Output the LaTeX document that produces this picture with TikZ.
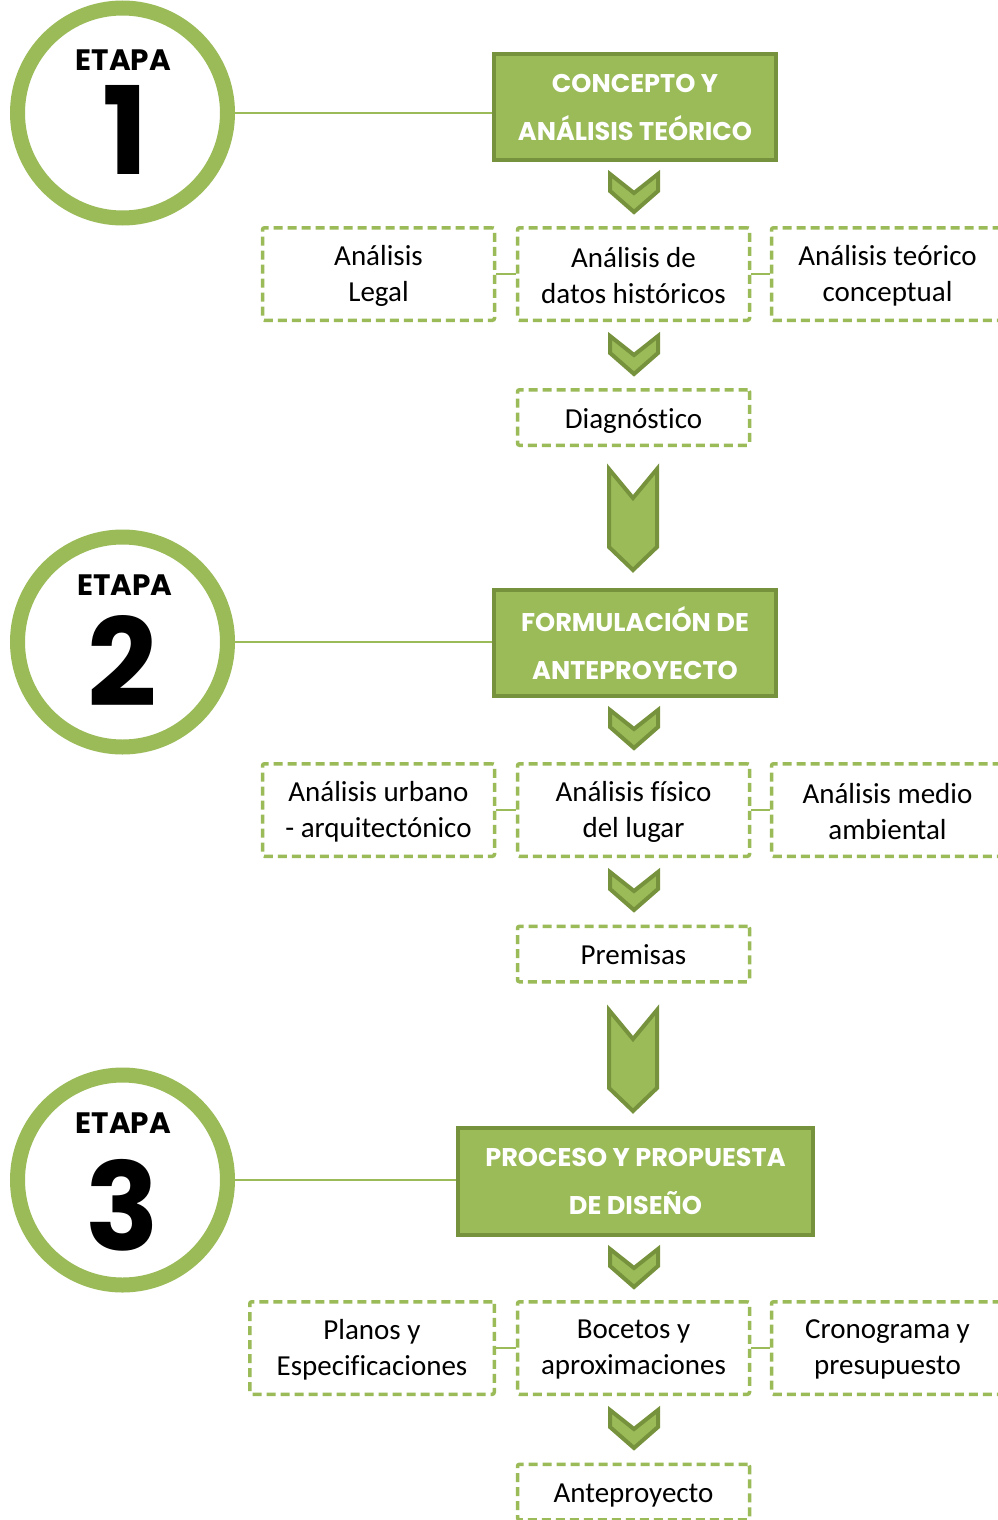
\documentclass[tikz,border=0pt]{standalone}
\usepackage{fontspec}
\setmainfont{Carlito}[Ligatures=NoCommon]
\newfontfamily\gothic{Poppins}
\definecolor{lg}{HTML}{9BBB59}
\definecolor{dg}{HTML}{76923C}
\newcommand\chevS[1]{\draw[chev] (#1) ++(-24,0) -- ++(24,19) -- ++(24,-19) -- ++(0,17) -- ++(-24,21) -- ++(-24,-21) -- cycle;}
\newcommand\chevB[1]{\draw[chev] (#1) ++(-24,0) -- ++(24,29) -- ++(24,-29) -- ++(0,78) -- ++(-24,23) -- ++(-24,-23) -- cycle;}
\newcommand\dnode[4][]{\node[dbox,#1,label={[tlab]center:{#4}}] (#2) at (#3) {};}
\begin{document}
\begin{tikzpicture}[x=1pt,y=-1pt,
 hdr/.style={rectangle, fill=lg, draw=dg, line width=4pt, text=white, font=\gothic\bfseries\fontsize{25.6}{48}\selectfont, align=center, inner sep=0pt, minimum width=282pt, minimum height=106pt},
 dbase/.style={rectangle, draw=lg, line width=3.5pt, dash pattern=on 9pt off 5pt, rounded corners=2pt, minimum width=232pt, align=center, font=\fontsize{29}{36}\selectfont, inner sep=0pt},
 dbox/.style={dbase, minimum height=92.5pt},
 tlab/.style={align=center, font=\fontsize{29}{36}\selectfont, inner sep=0pt, yshift=-1.5pt},
 sbox/.style={dbase, minimum height=55.5pt,
   execute at begin node={\rule{0pt}{27pt}}, execute at end node={\rule[-6pt]{0pt}{0pt}}},
 ring/.style={circle, draw=lg, line width=15pt, minimum size=210pt, inner sep=0pt, fill=white},
 etapa/.style={font=\gothic\bfseries\fontsize{29.5}{30}\selectfont, inner sep=0pt},
 num/.style={font=\gothic\bfseries\fontsize{122}{122}\selectfont, inner sep=0pt},
 link/.style={draw=lg, line width=2pt},
 tie/.style={draw=lg, line width=2.5pt},
 chev/.style={fill=lg, draw=dg, line width=4pt, line join=miter}]
\useasboundingbox (0,0) rectangle (997,1520);
\fill[white] (0,0) rectangle (997,1520);
% ETAPA 1
\node[ring] (c1) at (122.5,113) {};
\node[etapa] (e1) at (123.5,60) {ETAPA};
\node[num] (n1) at (125,130) {1};
\node[hdr] (b1) at (635,107) {CONCEPTO Y\\ANÁLISIS TEÓRICO};
\draw[link] (c1.east) -- (c1.east -| b1.west);
\chevS{634,174}
\dnode{l1}{378.5,274}{Análisis\\Legal}
\dnode{m1}{633.5,274}{Análisis de\\datos históricos}
\dnode{r1}{887.5,274}{Análisis teórico\\conceptual}
\draw[tie] (l1.east) -- (m1.west);
\draw[tie] (m1.east) -- (r1.west);
\chevS{634,336}
\node[sbox] (d1) at (633.5,417.5) {Diagnóstico};
\chevB{633,469}
% ETAPA 2
\node[ring] (c2) at (122.5,642) {};
\node[etapa] (e2) at (125,585) {ETAPA};
\node[num] (n2) at (122,661) {2};
\node[hdr] (b2) at (635,643) {FORMULACIÓN DE\\ANTEPROYECTO};
\draw[link] (c2.east) -- (c2.east -| b2.west);
\chevS{634,710}
\dnode{l2}{378.5,810}{Análisis urbano\\- arquitectónico}
\dnode{m2}{633.5,810}{Análisis físico\\del lugar}
\dnode{r2}{887.5,810}{Análisis medio\\ambiental}
\draw[tie] (l2.east) -- (m2.west);
\draw[tie] (m2.east) -- (r2.west);
\chevS{634,872}
\node[sbox] (d2) at (633.5,954) {Premisas};
\chevB{633,1010}
% ETAPA 3
\node[ring] (c3) at (122.5,1180) {};
\node[etapa] (e3) at (123.5,1123) {ETAPA};
\node[num] (n3) at (122,1205) {3};
\node[hdr, minimum width=355pt, minimum height=107pt] (b3) at (635.5,1181.5) {PROCESO Y PROPUESTA\\DE DISEÑO};
\draw[link] (c3.east) -- (c3.east -| b3.west);
\chevS{634,1249}
\dnode[minimum width=244.5pt]{l3}{372,1348}{Planos y\\Especificaciones}
\dnode{m3}{633.5,1348}{Bocetos y\\aproximaciones}
\dnode{r3}{887.5,1348}{Cronograma y\\presupuesto}
\draw[tie] (l3.east) -- (m3.west);
\draw[tie] (m3.east) -- (r3.west);
\chevS{634,1410}
\node[sbox] (d3) at (633.5,1492) {Anteproyecto};
\end{tikzpicture}
\end{document}
